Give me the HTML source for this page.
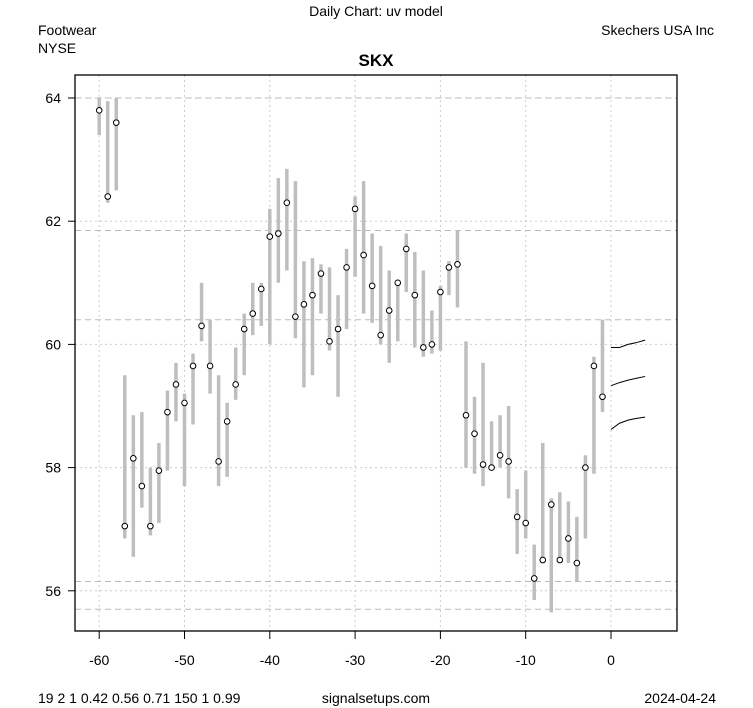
<!DOCTYPE html>
<html><head><meta charset="utf-8"><style>
html,body{margin:0;padding:0;background:#fff;}
svg{display:block;font-family:"Liberation Sans",Arial,sans-serif;}
</style></head><body>
<svg id="chart" width="753" height="708" viewBox="0 0 753 708" xmlns="http://www.w3.org/2000/svg">
<rect width="753" height="708" fill="#fff"/>
<text x="376" y="16" font-size="14" text-anchor="middle">Daily Chart: uv model</text>
<text x="38" y="35" font-size="14">Footwear</text>
<text x="38" y="53" font-size="14">NYSE</text>
<text x="714" y="35" font-size="14" text-anchor="end">Skechers USA Inc</text>
<text x="376" y="66" font-size="17" font-weight="bold" text-anchor="middle">SKX</text>
<g id="grid"></g>
<g id="bars"></g>
<g id="fc"></g>
<rect x="75" y="75" width="602" height="556" fill="none" stroke="#000" stroke-width="1.3"/>
<g id="axes"></g>
<text x="38" y="703" font-size="14">19 2 1 0.42 0.56 0.71 150 1 0.99</text>
<text x="376" y="703" font-size="14" text-anchor="middle">signalsetups.com</text>
<text x="716" y="703" font-size="14" text-anchor="end">2024-04-24</text>
</svg>
<script>
const days = [];
for (let d = -60; d <= -1; d++) days.push(d);
const closes = [63.8,62.4,63.6,57.05,58.15,57.7,57.05,57.95,58.9,59.35,59.05,59.65,60.3,59.65,58.1,58.75,59.35,60.25,60.5,60.9,61.75,61.8,62.3,60.45,60.65,60.8,61.15,60.05,60.25,61.25,62.2,61.45,60.95,60.15,60.55,61.0,61.55,60.8,59.95,60.0,60.85,61.25,61.3,58.85,58.55,58.05,58.0,58.2,58.1,57.2,57.1,56.2,56.5,57.4,56.5,56.85,56.45,58.0,59.65,59.15];
const lows = [63.4,62.3,62.5,56.85,56.55,57.35,56.9,57.1,57.95,58.75,57.7,58.7,60.05,59.2,57.7,57.85,59.1,59.5,60.15,60.3,60.0,61.0,61.2,60.1,59.3,59.5,60.5,59.9,59.15,60.25,61.1,60.5,60.35,60.0,59.7,60.05,60.85,59.95,59.8,59.85,59.9,60.8,60.6,58.0,57.9,57.7,57.95,58.0,57.5,56.6,56.85,55.85,56.45,55.65,56.45,56.45,56.15,56.85,57.9,58.9];
const highs = [64.0,63.95,64.0,59.5,58.85,58.9,58.0,58.4,59.25,59.7,59.2,59.85,61.0,60.4,59.5,59.05,59.95,60.5,61.0,61.0,62.2,62.7,62.85,62.65,61.35,61.4,61.3,61.25,60.8,61.55,62.4,62.65,61.8,61.6,61.2,61.05,61.8,61.5,61.2,60.55,60.95,61.35,61.85,60.05,59.15,59.7,58.75,58.85,59.0,57.65,57.95,56.75,58.4,57.5,57.6,57.45,57.2,58.2,59.8,60.4];
const fcDays = [0,1,2,3,4];
const fcUpper = [59.95,59.95,60.0,60.03,60.07];
const fcMid = [59.33,59.38,59.42,59.45,59.48];
const fcLower = [58.62,58.72,58.77,58.8,58.82];
const levels = [64.0,61.85,60.4,56.15,55.7];
const yTicks = [56,58,60,62,64];
const xTicks = [-60,-50,-40,-30,-20,-10,0];

const NS = "http://www.w3.org/2000/svg";
const X = d => 611 + d * 8.53;
const Y = v => 98 + (64 - v) * 61.6;
function mk(tag, attrs, parent) {
  const e = document.createElementNS(NS, tag);
  for (const k in attrs) e.setAttribute(k, attrs[k]);
  parent.appendChild(e);
  return e;
}
const grid = document.getElementById('grid');
const bars = document.getElementById('bars');
const fc = document.getElementById('fc');
const axes = document.getElementById('axes');

xTicks.forEach(t => {
  const l = mk('line', {x1: X(t), x2: X(t), y1: 75, y2: 631, stroke: '#ccc', 'stroke-dasharray': '2,3'}, grid);
  
  
  const tk = mk('line', {x1: X(t), x2: X(t), y1: 631, y2: 639, stroke: '#000'}, axes);
  
  
  const tx = mk('text', {x: X(t), y: 665, 'font-size': 14, 'text-anchor': 'middle'}, axes);
  tx.textContent = t;
  
  
});
yTicks.forEach(t => {
  const l = mk('line', {x1: 75, x2: 677, y1: Y(t), y2: Y(t), stroke: '#ccc', 'stroke-dasharray': '2,3'}, grid);
  
  
  const tk = mk('line', {x1: 68, x2: 75, y1: Y(t), y2: Y(t), stroke: '#000'}, axes);
  
  
  const tx = mk('text', {x: 61, y: Y(t) + 5, 'font-size': 14, 'text-anchor': 'end'}, axes);
  tx.textContent = t;
  
  
});
levels.forEach(v => {
  const l = mk('line', {x1: 75, x2: 677, y1: Y(v), y2: Y(v), stroke: '#bbb', 'stroke-dasharray': '6,4'}, grid);
  
  
});
days.forEach((d, i) => {
  const b = mk('line', {x1: X(d), x2: X(d), y1: Y(highs[i]), y2: Y(lows[i]), stroke: '#bebebe', 'stroke-width': 3.5}, bars);
  
  
  const c = mk('circle', {cx: X(d), cy: Y(closes[i]), r: 2.8, fill: '#fff', stroke: '#000', 'stroke-width': 1}, bars);
  
  
});
[fcUpper, fcMid, fcLower].forEach(s => {
  const p = mk('polyline', {points: fcDays.map((d, i) => X(d) + ',' + Y(s[i])).join(' '), fill: 'none', stroke: '#000', 'stroke-width': 1}, fc);
  
  
});
</script>
</body></html>
